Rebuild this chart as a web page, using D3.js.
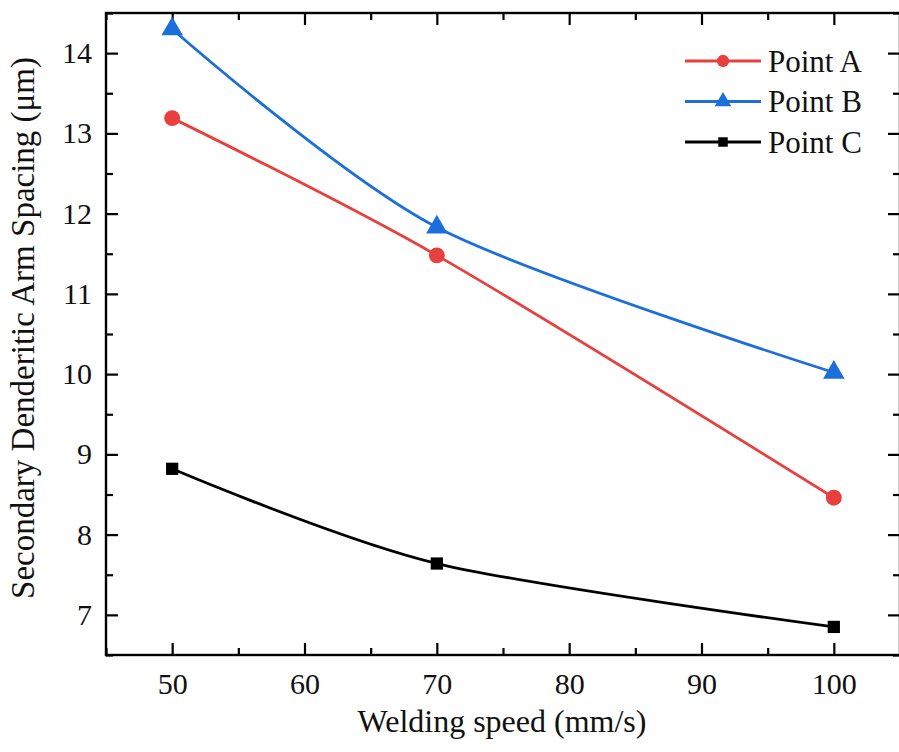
<!DOCTYPE html>
<html>
<head>
<meta charset="utf-8">
<script src="https://cdn.jsdelivr.net/npm/d3@7"></script>
<style>
  html, body { margin: 0; padding: 0; background: #fff; }
  svg { display: block; }
  text { font-family: "Liberation Serif", "Times New Roman", serif; fill: #111; }
</style>
</head>
<body>
<svg id="chart" width="899" height="752"></svg>
<script>
// Welding speed (mm/s)
const speeds = [50, 70, 100];
// Secondary dendritic arm spacing (µm) at each measuring point
const pointA = [13.19, 11.48, 8.46];
const pointB = [14.30, 11.83, 10.02];
const pointC = [8.82, 7.64, 6.85];

const seriesNames = ["Point A", "Point B", "Point C"];
const seriesColors = ["#e8403e", "#1c6fdb", "#000000"];
const seriesShapes = [d3.symbolCircle, d3.symbolTriangle, d3.symbolSquare];

const xTicks = [50, 60, 70, 80, 90, 100];
const yTicks = [7, 8, 9, 10, 11, 12, 13, 14];

const svg = d3.select("#chart");
const plot = { left: 106, top: 13, right: 900, bottom: 655 };

const x = d3.scaleLinear().domain([45, 105]).range([plot.left, plot.right]);
const y = d3.scaleLinear().domain([6.5, 14.5]).range([plot.bottom, plot.top]);

const seriesData = [pointA, pointB, pointC].map((vals, i) => ({
  name: seriesNames[i],
  color: seriesColors[i],
  shape: seriesShapes[i],
  values: speeds.map((s, j) => ({ x: s, y: vals[j] }))
}));

// Axes: ticks pointing inward, mirrored on all four sides
const fontSize = 30;
const majorLen = 12, minorLen = 7;
const xMinor = d3.range(45, 106, 5).filter(v => !xTicks.includes(v));
const yMinor = d3.range(6.5, 14.51, 0.5).filter(v => !yTicks.includes(v));

function styleAxis(g) {
  g.select(".domain").remove();
  g.selectAll(".tick line").attr("stroke", "#000").attr("stroke-width", 2.2);
  g.selectAll(".tick text").style("font-size", fontSize + "px")
    .style("font-family", "'Liberation Serif', 'Times New Roman', serif").attr("fill", "#111");
}

// bottom
svg.append("g").attr("transform", `translate(0,${plot.bottom})`)
  .call(d3.axisBottom(x).tickValues(xTicks).tickSizeInner(-majorLen).tickSizeOuter(0).tickPadding(18).tickFormat(d3.format("d")))
  .call(styleAxis);
svg.append("g").attr("transform", `translate(0,${plot.bottom})`)
  .call(d3.axisBottom(x).tickValues(xMinor).tickSizeInner(-minorLen).tickSizeOuter(0).tickFormat(""))
  .call(styleAxis);
// top
svg.append("g").attr("transform", `translate(0,${plot.top})`)
  .call(d3.axisTop(x).tickValues(xTicks).tickSizeInner(-majorLen).tickSizeOuter(0).tickFormat(""))
  .call(styleAxis);
svg.append("g").attr("transform", `translate(0,${plot.top})`)
  .call(d3.axisTop(x).tickValues(xMinor).tickSizeInner(-minorLen).tickSizeOuter(0).tickFormat(""))
  .call(styleAxis);
// left
svg.append("g").attr("transform", `translate(${plot.left},0)`)
  .call(d3.axisLeft(y).tickValues(yTicks).tickSizeInner(-majorLen).tickSizeOuter(0).tickPadding(14).tickFormat(d3.format("d")))
  .call(styleAxis);
svg.append("g").attr("transform", `translate(${plot.left},0)`)
  .call(d3.axisLeft(y).tickValues(yMinor).tickSizeInner(-minorLen).tickSizeOuter(0).tickFormat(""))
  .call(styleAxis);
// right
svg.append("g").attr("transform", `translate(${plot.right},0)`)
  .call(d3.axisRight(y).tickValues(yTicks).tickSizeInner(-majorLen).tickSizeOuter(0).tickFormat(""))
  .call(styleAxis);
svg.append("g").attr("transform", `translate(${plot.right},0)`)
  .call(d3.axisRight(y).tickValues(yMinor).tickSizeInner(-minorLen).tickSizeOuter(0).tickFormat(""))
  .call(styleAxis);

// frame
svg.append("rect")
  .attr("x", plot.left).attr("y", plot.top)
  .attr("width", plot.right - plot.left).attr("height", plot.bottom - plot.top)
  .attr("fill", "none").attr("stroke", "#000").attr("stroke-width", 2.4);

// series lines: smooth curves through every point
const line = d3.line().x(d => x(d.x)).y(d => y(d.y)).curve(d3.curveCardinal.tension(0.15));
const sizes = { circle: 200, triangle: 200, square: 150 };
function symSize(shape) {
  return shape === d3.symbolCircle ? sizes.circle : shape === d3.symbolTriangle ? sizes.triangle : sizes.square;
}

seriesData.forEach(s => {
  svg.append("path").datum(s.values)
    .attr("d", line).attr("fill", "none")
    .attr("stroke", s.color).attr("stroke-width", 2.8);
  svg.append("g").selectAll("path").data(s.values).join("path")
    .attr("transform", d => `translate(${x(d.x)},${y(d.y)})`)
    .attr("d", d3.symbol().type(s.shape).size(symSize(s.shape)))
    .attr("fill", s.color);
});

// legend
const legend = svg.append("g").attr("transform", "translate(685,61)");
seriesData.forEach((s, i) => {
  const g = legend.append("g").attr("transform", `translate(0,${i * 40.5})`);
  g.append("line").attr("x1", 0).attr("x2", 76).attr("y1", 0).attr("y2", 0)
    .attr("stroke", s.color).attr("stroke-width", 2.8);
  g.append("path").attr("transform", "translate(38,0)")
    .attr("d", d3.symbol().type(s.shape).size(symSize(s.shape) * 0.6))
    .attr("fill", s.color);
  g.append("text").attr("x", 83).attr("y", 0).attr("dy", "0.35em")
    .style("font-size", "31px").text(s.name);
});

// axis titles
svg.append("text")
  .attr("x", 502).attr("y", 732)
  .attr("text-anchor", "middle").style("font-size", "32px")
  .text("Welding speed (mm/s)");

svg.append("text")
  .attr("transform", "translate(34,328) rotate(-90)")
  .attr("text-anchor", "middle").style("font-size", "33px")
  .text("Secondary Denderitic Arm Spacing (μm)");
</script>
</body>
</html>
